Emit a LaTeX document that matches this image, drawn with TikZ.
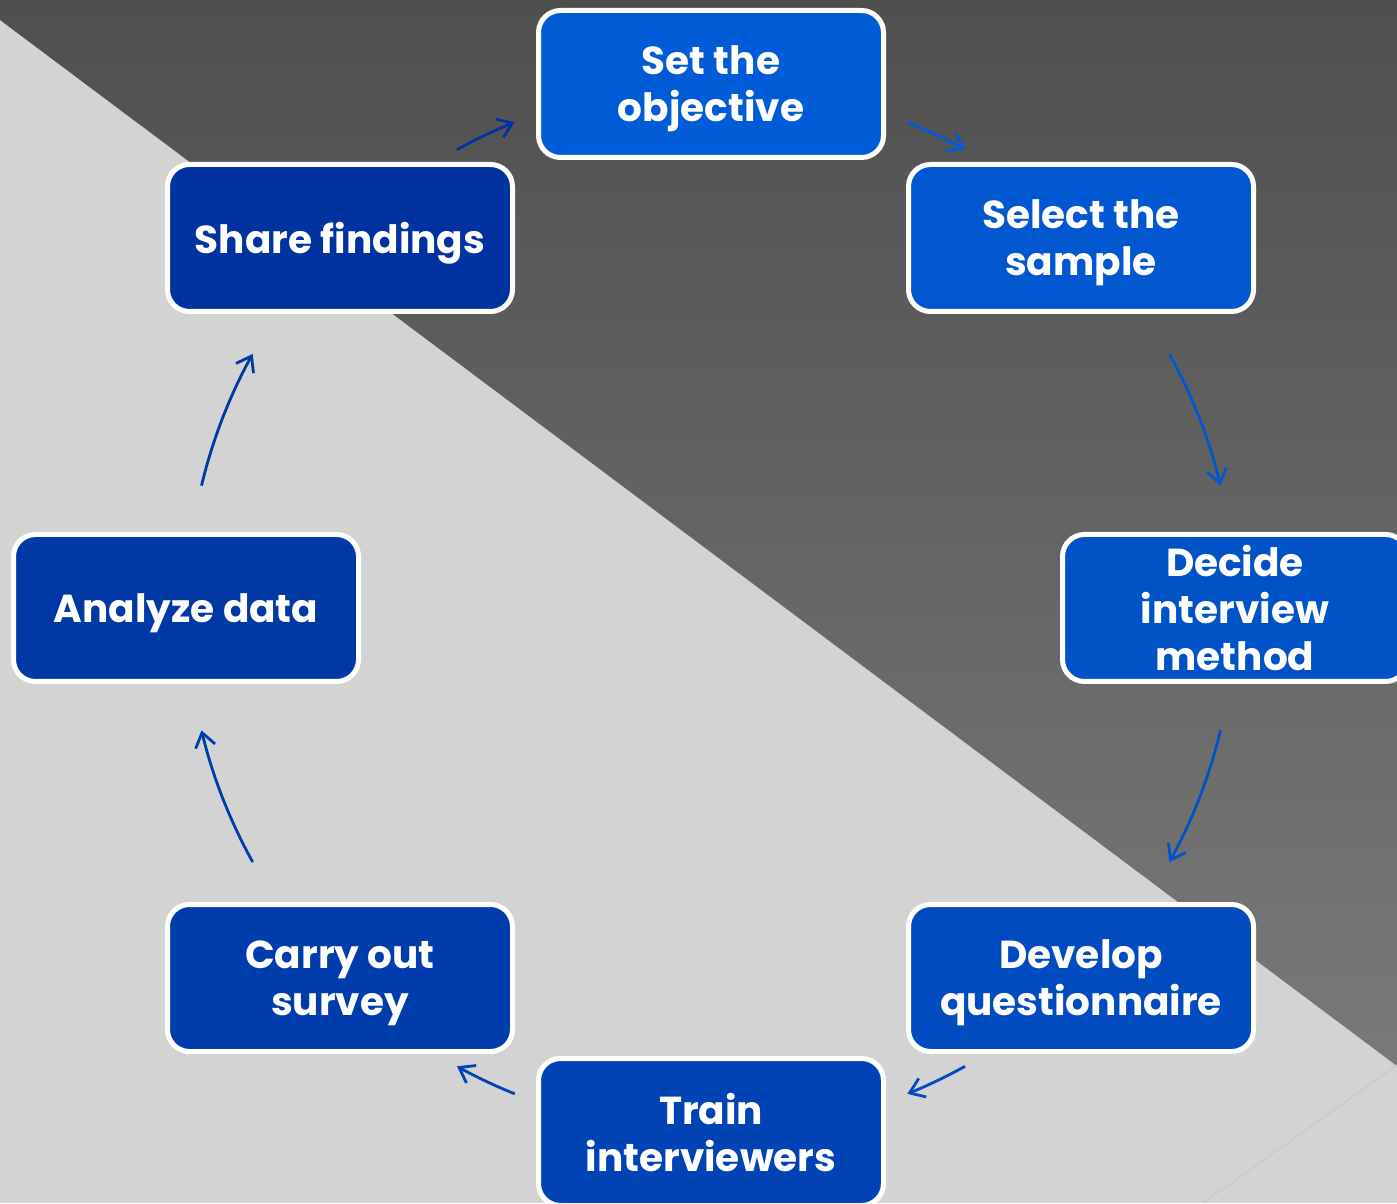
\documentclass[tikz,border=0pt]{standalone}
\usepackage{fontspec}
\setmainfont{Poppins}
\usetikzlibrary{arrows.meta}

\definecolor{fondoclaro}{HTML}{D3D3D3}
\definecolor{fondooscuro}{HTML}{4F4F4F}
\definecolor{fondomedio}{HTML}{797979}
\definecolor{azulA}{HTML}{005CD6}
\definecolor{azulB}{HTML}{0057CF}
\definecolor{azulC}{HTML}{0052C7}
\definecolor{azulD}{HTML}{004BC0}
\definecolor{azulE}{HTML}{0043B5}
\definecolor{azulF}{HTML}{003DAC}
\definecolor{azulG}{HTML}{0038A5}
\definecolor{azulH}{HTML}{0033A0}

\newcommand{\pasofont}{\bfseries\fontsize{39}{47}\selectfont}

\tikzset{
    paso/.style={draw=white, line width=5pt, rounded corners=22pt,
        minimum width=345pt, minimum height=147pt, align=center,
        text=white, font=\pasofont, text depth=0pt},
    flecha/.style={line width=2.8pt, -{Straight Barb[length=14pt,width=20pt]}}
}

\begin{document}
\begin{tikzpicture}[x=1pt,y=1pt]
    \useasboundingbox (0,0) rectangle (1397,1203);
    \clip (0,0) rectangle (1397,1203);

    % Fondo
    \fill[fondoclaro] (0,0) rectangle (1397,1203);
    \shade[top color=fondooscuro, bottom color=fondomedio]
        (0,1183) -- (0,1203) -- (1397,1203) -- (1397,137) -- cycle;
    \draw[fondoclaro!94!black, line width=0.8pt] (1203,0) -- (1397,138);

    % Centro del ciclo
    \coordinate (hub) at (711,595);

    % Pasos
    \node[paso, fill=azulA] (objetivo) at (711,1119) {Set the\\objective};
    \node[paso, fill=azulB] (muestra) at (1081,965) {Select the\\sample};
    \node[paso, fill=azulC] (metodo) at (1235,595) {Decide\\interview\\method};
    \node[paso, fill=azulD] (cuestionario) at (1081,225) {Develop\\questionnaire};
    \node[paso, fill=azulE] (entrenar) at (711,71) {Train\\interviewers};
    \node[paso, fill=azulF] (encuesta) at (340,225) {Carry out\\survey};
    \node[paso, fill=azulG] (analisis) at (186,595) {Analyze data};
    \node[paso, fill=azulH] (compartir) at (340,965) {Share findings};

    % Puntos de inicio de las flechas
    \coordinate (f1) at ([shift={(119:524)}]hub);
    \coordinate (f2) at ([shift={(68:524)}]hub);
    \coordinate (f3) at ([shift={(29:524)}]hub);
    \coordinate (f4) at ([shift={(-13.5:524)}]hub);
    \coordinate (f5) at ([shift={(-61:524)}]hub);
    \coordinate (f6) at ([shift={(-112:524)}]hub);
    \coordinate (f7) at ([shift={(-151:524)}]hub);
    \coordinate (f8) at ([shift={(166.5:524)}]hub);

    % Flechas del ciclo
    \draw[flecha, azulH] (f1) arc[start angle=119, end angle=112, radius=524];
    \draw[flecha, azulA] (f2) arc[start angle=68, end angle=61, radius=524];
    \draw[flecha, azulB] (f3) arc[start angle=29, end angle=13.5, radius=524];
    \draw[flecha, azulC] (f4) arc[start angle=-13.5, end angle=-29, radius=524];
    \draw[flecha, azulD] (f5) arc[start angle=-61, end angle=-68, radius=524];
    \draw[flecha, azulE] (f6) arc[start angle=-112, end angle=-119, radius=524];
    \draw[flecha, azulF] (f7) arc[start angle=-151, end angle=-166.5, radius=524];
    \draw[flecha, azulG] (f8) arc[start angle=166.5, end angle=151, radius=524];
\end{tikzpicture}
\end{document}
